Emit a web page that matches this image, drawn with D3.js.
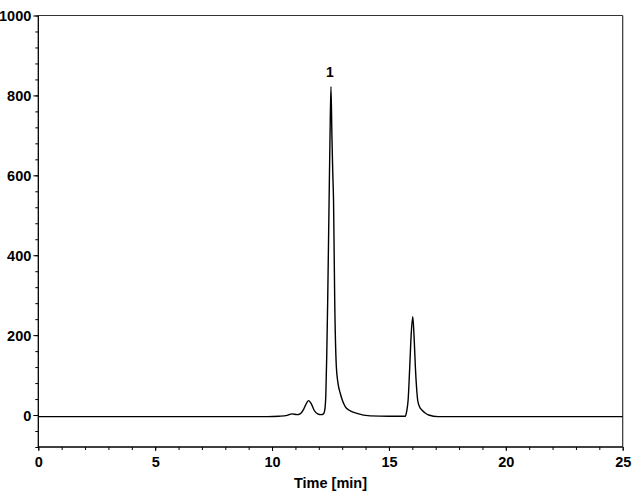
<!DOCTYPE html>
<html>
<head>
<meta charset="utf-8">
<script src="https://cdn.jsdelivr.net/npm/d3@7"></script>
<style>
  html, body { margin: 0; padding: 0; background: #fff; }
  text { font-family: "Liberation Sans", Arial, sans-serif; font-weight: bold; }
</style>
</head>
<body>
<svg id="chart" width="644" height="503"></svg>
<script>
// Data
const timeMin = [0, 5, 9.0, 9.8, 10.3, 10.64, 10.85, 11.07, 11.2, 11.35, 11.45, 11.56, 11.68, 11.8, 11.95, 12.1, 12.2, 12.26, 12.3, 12.34, 12.38, 12.44, 12.48, 12.52, 12.56, 12.6, 12.63, 12.68, 12.75, 12.82, 12.92, 13.02, 13.13, 13.3, 13.63, 14.2, 15.0, 15.6, 15.7, 15.76, 15.82, 15.89, 15.95, 16.02, 16.08, 16.13, 16.18, 16.23, 16.3, 16.42, 16.55, 16.7, 17.1, 20, 25];
const signal  = [-4, -4, -4, -4, -3, -1, 3, 1, 3, 14, 27, 36, 28, 12, 3, 1, 3, 15, 50, 150, 287, 537, 700, 822, 700, 600, 537, 287, 121, 80, 54, 35, 21, 12, 4, -2, -3, -3, -3, 10, 37, 121, 200, 246, 190, 121, 70, 37, 22, 12, 5, 0, -4, -4, -4];
const yTickLabels = [0, 200, 400, 600, 800, 1000];
const xTickLabels = [0, 5, 10, 15, 20, 25];
const peakLabels = [{ t: 12.52, v: 822, label: "1" }];
const xTitle = "Time [min]";

const svg = d3.select("#chart");
const x = d3.scaleLinear().domain([0, 25]).range([38.3, 622.7]);
const y = d3.scaleLinear().domain([-80, 1000]).range([447, 15.5]);

// frame (top and right)
svg.append("line").attr("x1", x(0)).attr("x2", x(25)).attr("y1", y(1000)).attr("y2", y(1000))
  .attr("stroke", "#333").attr("stroke-width", 1.2);
svg.append("line").attr("x1", x(25)).attr("x2", x(25)).attr("y1", y(1000)).attr("y2", y(-80))
  .attr("stroke", "#333").attr("stroke-width", 1.2);

// Y axis
const yMinor = d3.range(-80, 1001, 40);
const yAxisMinor = d3.axisLeft(y).tickValues(yMinor).tickSize(3).tickFormat("");
const gyMinor = svg.append("g").attr("transform", `translate(${x(0)},0)`).call(yAxisMinor);
const yAxis = d3.axisLeft(y).tickValues(yTickLabels).tickSize(5).tickPadding(2).tickFormat(d3.format("d"));
const gy = svg.append("g").attr("transform", `translate(${x(0)},0)`).call(yAxis);
gy.select(".domain").remove();
gyMinor.select(".domain").attr("d", `M-0,${y(1000)}V${y(-80)}`).attr("stroke-width", 1.3);
gy.selectAll("text").style("font-size", "14.5px").attr("fill", "#000").attr("dy", "0.36em");

// X axis
const xMinor = d3.range(0, 26, 1);
const xAxisMinor = d3.axisBottom(x).tickValues(xMinor).tickSize(3).tickFormat("");
const gxMinor = svg.append("g").attr("transform", `translate(0,${y(-80)})`).call(xAxisMinor);
gxMinor.select(".domain").attr("d", `M${x(0)},0H${x(25)}`).attr("stroke-width", 1.3);
const xAxis = d3.axisBottom(x).tickValues(xTickLabels).tickSize(4).tickPadding(6).tickFormat(d3.format("d"));
const gx = svg.append("g").attr("transform", `translate(0,${y(-80)})`).call(xAxis);
gx.select(".domain").remove();
gx.selectAll("text").style("font-size", "14.5px").attr("fill", "#000");

// X title
svg.append("text").attr("x", 330.5).attr("y", 488).attr("text-anchor", "middle")
  .style("font-size", "14.5px").text(xTitle);

// signal
const line = d3.line().x((d, i) => x(timeMin[i])).y(d => y(d)).curve(d3.curveMonotoneX);
svg.append("path").datum(signal).attr("d", line)
  .attr("fill", "none").attr("stroke", "#000").attr("stroke-width", 1.4).attr("stroke-linejoin", "round");

// peak labels
svg.selectAll(".peak").data(peakLabels).enter().append("text")
  .attr("x", d => x(d.t) - 1).attr("y", d => y(d.v) - 10).attr("text-anchor", "middle")
  .style("font-size", "14px").text(d => d.label);
</script>
</body>
</html>
